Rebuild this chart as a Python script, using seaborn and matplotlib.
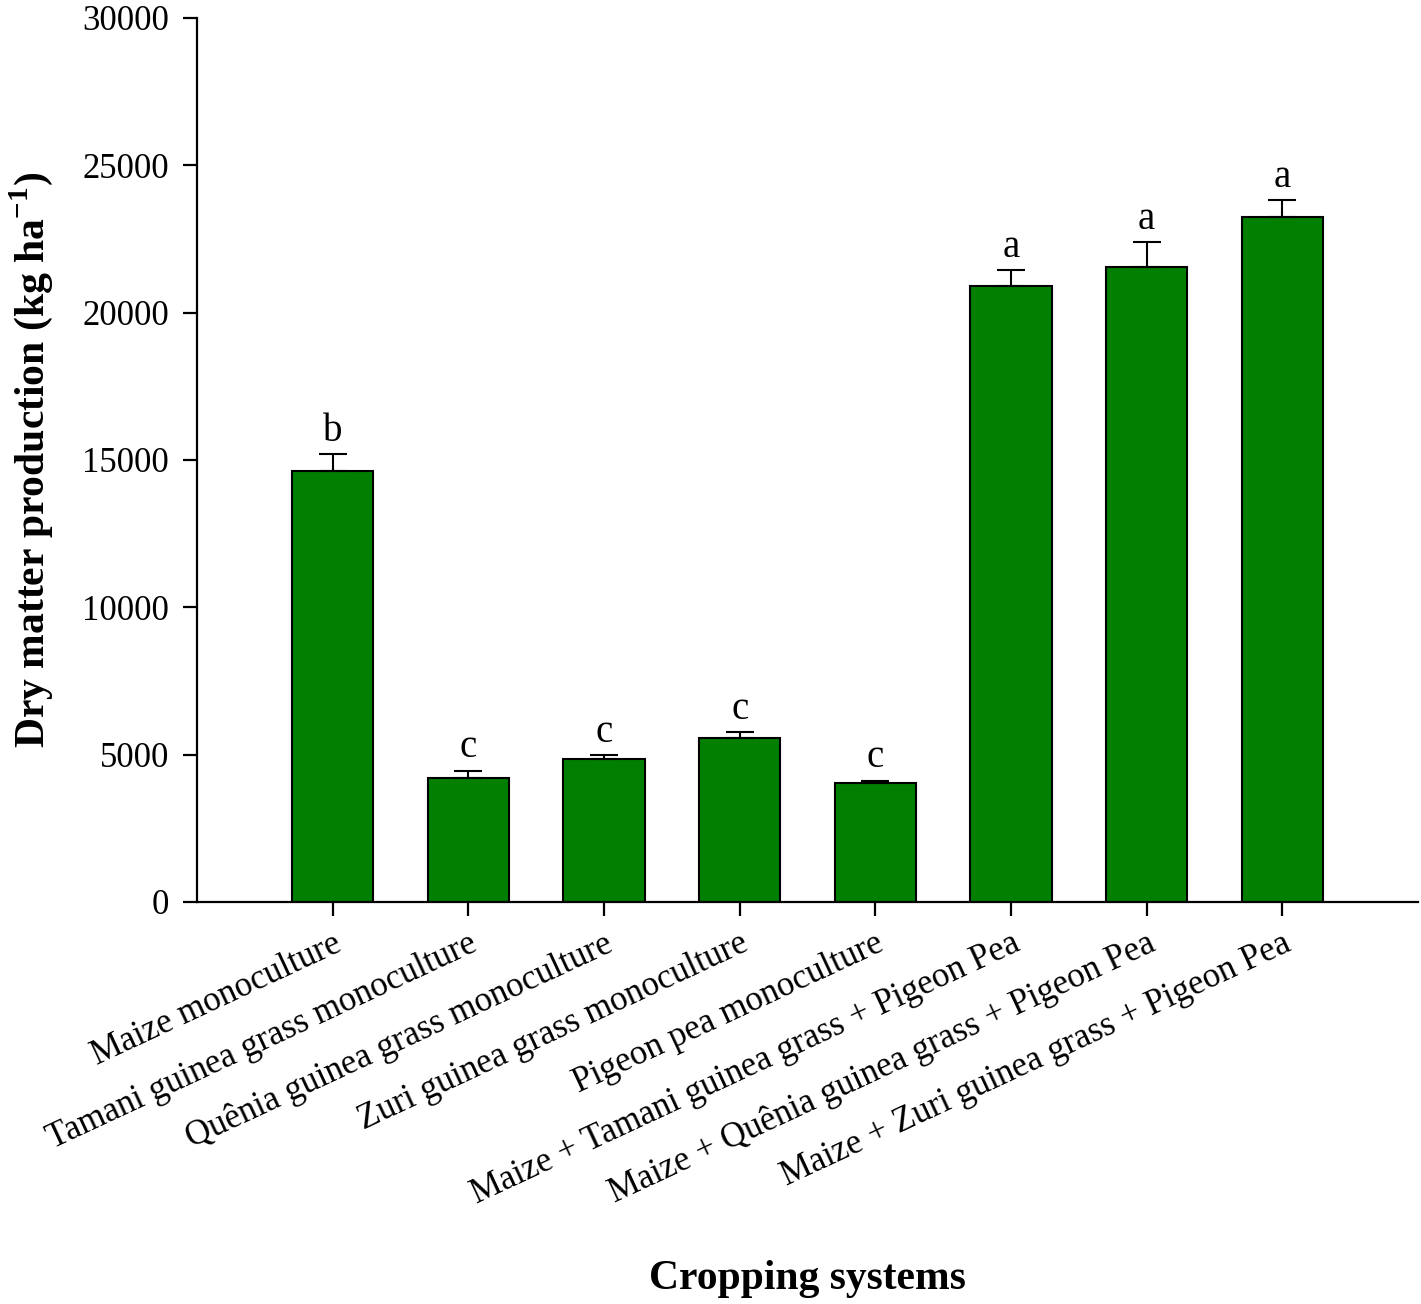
import numpy as np
import pandas as pd
import seaborn as sns
import matplotlib
matplotlib.use("Agg")
import matplotlib.pyplot as plt

systems = [
    "Maize monoculture",
    "Tamani guinea grass monoculture",
    "Quênia guinea grass monoculture",
    "Zuri guinea grass monoculture",
    "Pigeon pea monoculture",
    "Maize + Tamani guinea grass + Pigeon Pea",
    "Maize + Quênia guinea grass + Pigeon Pea",
    "Maize + Zuri guinea grass + Pigeon Pea",
]
dry_matter = [14630, 4210, 4850, 5550, 4040, 20900, 21540, 23240]
std_err = [575, 250, 135, 215, 80, 555, 850, 580]
letters = ["b", "c", "c", "c", "c", "a", "a", "a"]

df = pd.DataFrame({"system": systems, "dm": dry_matter})

sns.set_style("ticks")
plt.rcParams["font.family"] = ["Liberation Serif", "DejaVu Serif"]
plt.rcParams["axes.linewidth"] = 1.6
for k in ["text.color", "axes.labelcolor", "xtick.color", "ytick.color", "axes.edgecolor"]:
    plt.rcParams[k] = "black"

fig = plt.figure(figsize=(14.21, 13.04), dpi=100)
ax = fig.add_axes([197 / 1421, (1304 - 902) / 1304, (1418 - 197) / 1421, (902 - 18) / 1304])

sns.barplot(data=df, x="system", y="dm", color="#007F00", saturation=1,
            width=0.6, edgecolor="black", linewidth=1.5, errorbar=None, ax=ax)

x = np.arange(len(systems))
ax.errorbar(x, dry_matter, yerr=[np.zeros(len(std_err)), std_err], fmt="none",
            ecolor="black", elinewidth=1.5, capsize=10, capthick=1.5, zorder=1)

for xi, m, e, lab in zip(x, dry_matter, std_err, letters):
    ax.annotate(lab, (xi, m + e), xytext=(0, 3), textcoords="offset points",
                ha="center", va="bottom", fontsize=28)

ax.set_xlim(-1, 8)
ax.set_ylim(0, 30000)
ax.set_yticks(range(0, 30001, 5000))
sns.despine(ax=ax)

ax.tick_params(axis="y", length=10, width=1.6, labelsize=25, pad=10)
ax.tick_params(axis="x", length=10, width=1.6, labelsize=25, pad=8)
plt.setp(ax.get_xticklabels(), rotation=25, ha="right", rotation_mode="anchor")

ax.set_ylabel("Dry matter production (kg ha$^{\\mathregular{-1}}$)", fontsize=30,
              fontweight="bold")
ax.yaxis.set_label_coords(-0.116, 0.5)
ax.set_xlabel("Cropping systems", fontsize=30, fontweight="bold")
ax.xaxis.set_label_coords(0.5, -0.405)

fig.savefig("out.png", dpi=100)
